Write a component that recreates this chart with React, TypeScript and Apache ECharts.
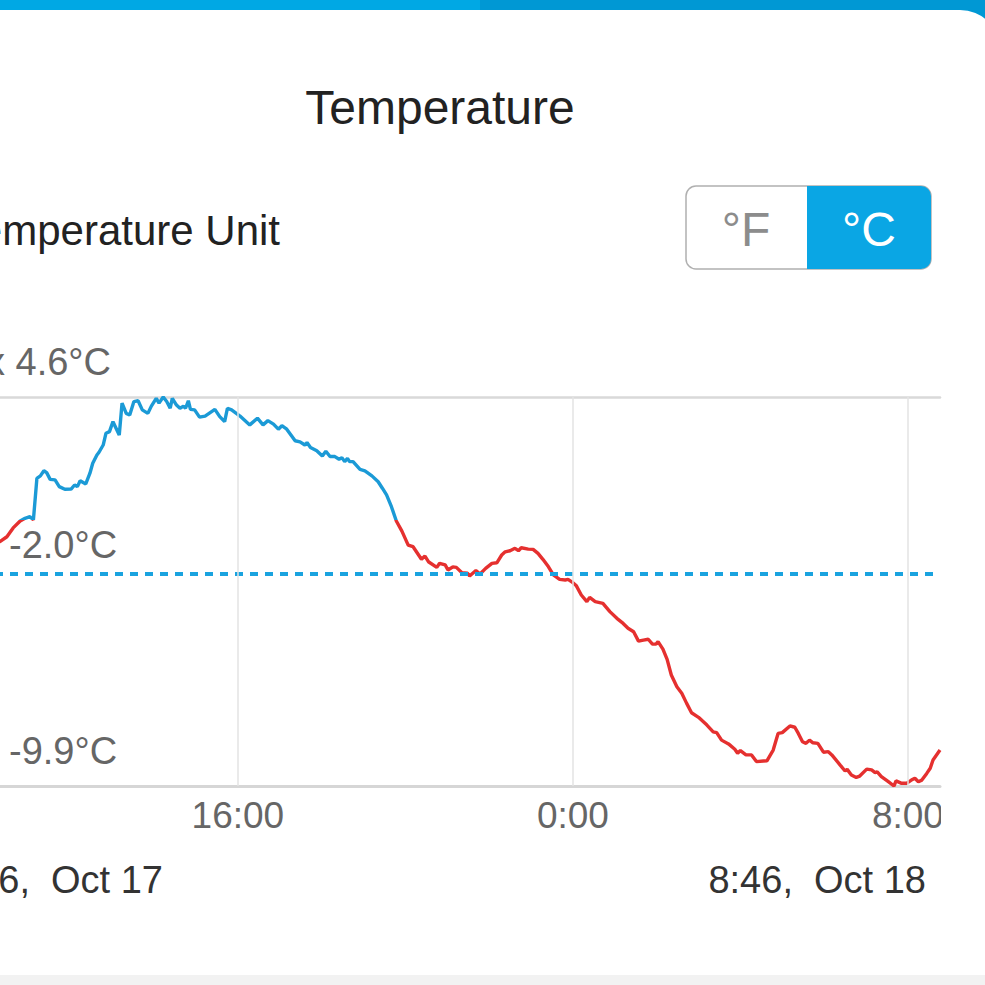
import React, { useEffect, useRef } from "react";
import * as echarts from "echarts";

// Readings: [minutes since 0:00 Oct 17, temperature °C]
const readings: [number, number][] = [
  [526, -1.33], [576, -1.1], [619, -0.79], [629, -0.61], [638, -0.28], [648, -0.02], [655, 0.08], [662, 0.14],
  [667, 0.02], [672, 1.57], [677, 1.66], [682, 1.85], [686, 1.78], [691, 1.53], [698, 1.51], [704, 1.26],
  [712, 1.16], [721, 1.17], [726, 1.32], [730, 1.26], [734, 1.48], [742, 1.36], [748, 1.76], [752, 2.13],
  [758, 2.44], [761, 2.54], [767, 2.81], [771, 3.25], [776, 3.31], [781, 3.68], [790, 3.18], [794, 4.37],
  [800, 3.99], [805, 3.93], [811, 4.43], [817, 4.46], [823, 4.12], [831, 3.99], [836, 4.26], [843, 4.55],
  [847, 4.37], [853, 4.6], [858, 4.43], [863, 4.18], [866, 4.55], [872, 4.3], [877, 4.18], [882, 4.26],
  [885, 4.18], [889, 4.46], [892, 4.14], [898, 4.12], [905, 3.85], [913, 3.89], [927, 4.14], [934, 3.87],
  [941, 3.68], [945, 4.18], [951, 4.12], [963, 3.89], [977, 3.56], [988, 3.81], [996, 3.56], [1003, 3.72],
  [1011, 3.59], [1018, 3.4], [1023, 3.53], [1030, 3.4], [1042, 2.97], [1049, 2.93], [1056, 2.81], [1059, 2.9],
  [1064, 2.72], [1073, 2.6], [1081, 2.4], [1086, 2.58], [1092, 2.38], [1099, 2.38], [1105, 2.28], [1109, 2.34],
  [1113, 2.19], [1117, 2.31], [1120, 2.19], [1125, 2.19], [1135, 1.9], [1142, 1.85], [1152, 1.66], [1161, 1.44],
  [1167, 1.2], [1173, 0.95], [1180, 0.51], [1187, -0.02], [1195, -0.4], [1204, -0.92], [1211, -0.98], [1223, -1.45],
  [1228, -1.33], [1233, -1.54], [1245, -1.75], [1249, -1.6], [1257, -1.66], [1261, -1.85], [1268, -1.73], [1273, -1.75],
  [1281, -1.95], [1289, -1.97], [1292, -2.07], [1301, -1.87], [1307, -2.0], [1315, -1.79], [1324, -1.6], [1331, -1.58],
  [1338, -1.29], [1343, -1.17], [1350, -1.13], [1357, -1.04], [1362, -1.13], [1366, -1.02], [1376, -1.07], [1383, -1.08],
  [1390, -1.23], [1397, -1.45], [1405, -1.73], [1412, -2.03], [1421, -2.2], [1429, -2.22], [1433, -2.2], [1440, -2.32],
  [1445, -2.44], [1452, -2.78], [1460, -3.03], [1464, -2.87], [1472, -3.03], [1483, -3.09], [1493, -3.4], [1503, -3.65],
  [1512, -3.84], [1519, -4.02], [1527, -4.15], [1534, -4.5], [1541, -4.46], [1548, -4.43], [1554, -4.61], [1559, -4.61],
  [1562, -4.52], [1569, -4.8], [1575, -5.18], [1581, -5.76], [1589, -6.2], [1596, -6.44], [1603, -6.82], [1610, -7.17],
  [1620, -7.34], [1632, -7.63], [1641, -7.88], [1646, -7.91], [1653, -8.19], [1663, -8.33], [1672, -8.53], [1676, -8.68],
  [1680, -8.58], [1688, -8.74], [1696, -8.74], [1703, -8.99], [1713, -8.97], [1718, -8.96], [1727, -8.56], [1734, -7.94],
  [1740, -7.91], [1751, -7.66], [1758, -7.71], [1763, -7.94], [1769, -8.25], [1774, -8.31], [1779, -8.19], [1784, -8.29],
  [1791, -8.31], [1799, -8.64], [1806, -8.62], [1811, -8.74], [1823, -9.12], [1830, -9.34], [1833, -9.28], [1839, -9.49],
  [1846, -9.58], [1851, -9.53], [1861, -9.27], [1868, -9.3], [1873, -9.4], [1876, -9.37], [1882, -9.55], [1892, -9.74],
  [1900, -9.9], [1903, -9.71], [1911, -9.8], [1918, -9.8], [1925, -9.68], [1930, -9.61], [1935, -9.74], [1940, -9.68],
  [1947, -9.43], [1952, -9.24], [1956, -8.93], [1966, -8.56],
];

const startMinute = 526; // 8:46 Oct 17
const endMinute = 1966; // 8:46 Oct 18
const tickMinutes = [960, 1440, 1920];
const maxTemp = 4.6;
const avgTemp = -2.0;
const minTemp = -9.9;
const freezing = 0;
const startLabel = "8:46,  Oct 17";
const endLabel = "8:46,  Oct 18";

const FONT = '"Liberation Sans", Arial, Helvetica, sans-serif';
const BLUE = "#1b9ad6";
const RED = "#e5302f";
// the chart canvas starts 65px left of the visible page
const OX = 65;
const CHART_W = 1050;

function fmtMinute(v: number) {
  const h = Math.floor(v / 60) % 24;
  const m = Math.round(v % 60);
  return `${h}:${m < 10 ? "0" + m : m}`;
}

function txt(text: string, x: number, y: number, size: number, fill: string, align = "left", z = 10) {
  return {
    type: "text",
    x: x + OX,
    y,
    z,
    silent: true,
    style: {
      text,
      font: `${size}px ${FONT}`,
      fill,
      align,
      textAlign: align,
      verticalAlign: "middle",
      textVerticalAlign: "middle",
    },
  };
}

function box(x: number, y: number, width: number, height: number, style: any, z: number, r: any = 0) {
  return { type: "rect", z, silent: true, shape: { x: x + OX, y, width, height, r }, style };
}

export default function App() {
  const ref = useRef<HTMLDivElement>(null);
  useEffect(() => {
    if (!ref.current) return;
    const chart = echarts.init(ref.current, null, { renderer: "svg" });
    chart.setOption({
      animation: false,
      backgroundColor: "#ffffff",
      grid: { left: 0, right: 45, top: 397, bottom: 199 },
      visualMap: {
        show: false,
        type: "piecewise",
        dimension: 1,
        seriesIndex: 0,
        pieces: [
          { gte: -50, lt: freezing, color: RED },
          { gte: freezing, lte: 50, color: BLUE },
        ],
      },
      xAxis: [
        {
          type: "value",
          min: startMinute,
          max: endMinute,
          axisLine: { show: true, onZero: false, lineStyle: { color: "#d6d6d6", width: 3 } },
          axisTick: { show: false },
          axisLabel: { show: false },
          splitLine: { show: false },
        },
        {
          type: "value",
          position: "top",
          min: startMinute,
          max: endMinute,
          axisLine: { show: true, onZero: false, lineStyle: { color: "#d9d9d9", width: 2.5 } },
          axisTick: { show: false },
          axisLabel: { show: false },
          splitLine: { show: false },
        },
      ],
      yAxis: {
        type: "value",
        min: minTemp,
        max: maxTemp,
        show: false,
        splitLine: { show: false },
      },
      series: [
        {
          type: "line",
          xAxisIndex: 0,
          data: readings,
          showSymbol: false,
          symbol: "none",
          lineStyle: { width: 3.4 },
          z: 3,
          markLine: {
            silent: true,
            symbol: "none",
            label: { show: false },
            lineStyle: { color: "#1aa3df", width: 4, type: [8, 7] },
            data: [{ yAxis: avgTemp }],
          },
        },
        {
          type: "line",
          xAxisIndex: 0,
          data: readings,
          showSymbol: false,
          symbol: "none",
          silent: true,
          lineStyle: { opacity: 0 },
          z: 1,
          markLine: {
            silent: true,
            symbol: "none",
            lineStyle: { color: "#e3e3e3", width: 1.5, type: "solid" },
            label: {
              show: true,
              position: "start",
              distance: 11,
              formatter: (p: any) => fmtMinute(p.value),
              color: "#666666",
              fontSize: 37,
              fontFamily: FONT,
            },
            data: tickMinutes.map((m) => ({ xAxis: m })),
          },
        },
      ],
      graphic: [
        // top bar and card
        box(-OX, 0, CHART_W, 60, { fill: "#00a8e4" }, -10),
        box(480, 0, CHART_W, 60, { fill: "#0098d4" }, -10),
        box(-OX, 10, 1065, 1000, { fill: "#ffffff" }, -9, [0, 40, 0, 0]),
        box(-OX, 975, CHART_W, 10, { fill: "#f2f2f2" }, -9),
        // title
        txt("Temperature", 440, 107, 48, "#222222", "center"),
        txt("Temperature Unit", 280, 230, 42, "#222222", "right"),
        // toggle
        box(686, 186, 245, 83, { fill: "#ffffff", stroke: "#b0b0b0", lineWidth: 1.5 }, 10, 10),
        box(807, 186, 124, 83, { fill: "#0aa6e4" }, 11, [0, 10, 10, 0]),
        txt("°F", 746, 229, 48, "#8c8c8c", "center", 12),
        txt("°C", 869, 229, 48, "#ffffff", "center", 12),
        // stat labels
        txt(`Max ${maxTemp.toFixed(1)}°C`, 111, 362, 38, "#666666", "right"),
        txt(`${avgTemp.toFixed(1)}°C`, 9, 545, 38, "#666666", "left"),
        txt(`${minTemp.toFixed(1)}°C`, 9, 751, 38, "#666666", "left"),
        // clip right of plot for axis label
        box(941, 795, 110, 50, { fill: "#ffffff" }, 100),
        // date range
        txt(startLabel, 163, 880, 38, "#333333", "right"),
        txt(endLabel, 926, 880, 38, "#333333", "right"),
      ],
    });
    return () => chart.dispose();
  }, []);
  return (
    <div style={{ position: "fixed", left: 0, top: 0, width: 985, height: 985, overflow: "hidden" }}>
      <div
        ref={ref}
        style={{ position: "absolute", left: -OX, top: 0, width: CHART_W, height: 985 }}
      />
    </div>
  );
}
